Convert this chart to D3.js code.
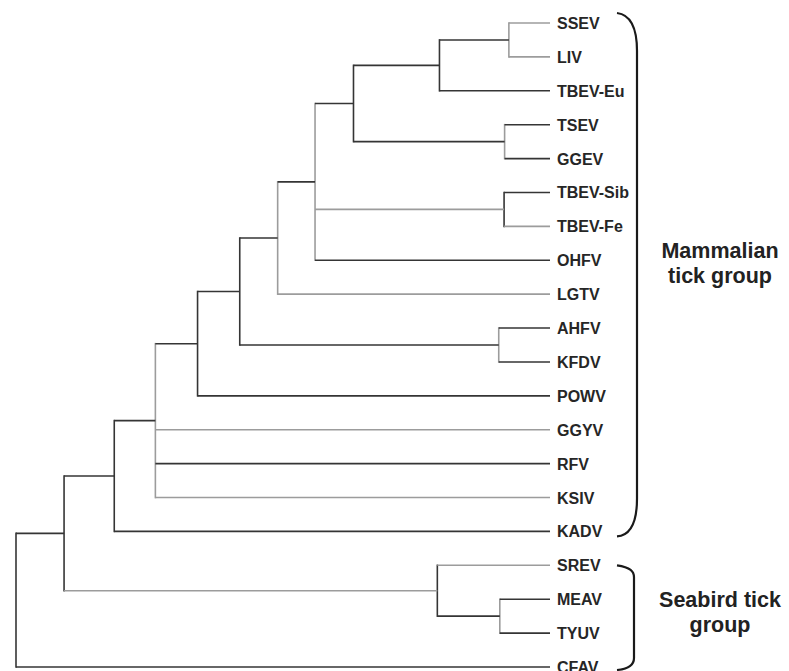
<!DOCTYPE html>
<html>
<head>
<meta charset="utf-8">
<script src="https://cdn.jsdelivr.net/npm/d3@7"></script>
<style>
  body { margin: 0; background: #fff; }
  text { font-family: "Liberation Sans", Arial, sans-serif; }
</style>
</head>
<body>
<svg id="tree"></svg>
<script>
// leaf order, top to bottom
var leaves = ["SSEV", "LIV", "TBEV-Eu", "TSEV", "GGEV", "TBEV-Sib", "TBEV-Fe", "OHFV",
              "LGTV", "AHFV", "KFDV", "POWV", "GGYV", "RFV", "KSIV", "KADV",
              "SREV", "MEAV", "TYUV", "CFAV"];

// [node, parent]
var edges = [
  ["root", ""],
  ["I", "root"], ["CFAV", "root"],
  ["H", "I"], ["Sea", "I"],
  ["G", "H"], ["KADV", "H"],
  ["F", "G"], ["GGYV", "G"], ["RFV", "G"], ["KSIV", "G"],
  ["E", "F"], ["POWV", "F"],
  ["D", "E"], ["AK", "E"],
  ["C", "D"], ["LGTV", "D"],
  ["B", "C"], ["TB", "C"], ["OHFV", "C"],
  ["A", "B"], ["TG", "B"],
  ["SL", "A"], ["TBEV-Eu", "A"],
  ["SSEV", "SL"], ["LIV", "SL"],
  ["TSEV", "TG"], ["GGEV", "TG"],
  ["TBEV-Sib", "TB"], ["TBEV-Fe", "TB"],
  ["AHFV", "AK"], ["KFDV", "AK"],
  ["SREV", "Sea"], ["MT", "Sea"],
  ["MEAV", "MT"], ["TYUV", "MT"]
];

// relative distance of each internal node from the root (leaves sit at 1)
var nodeDepth = {
  root: 0, I: 0.09, H: 0.184, G: 0.261, F: 0.34, E: 0.419, D: 0.49, C: 0.56,
  B: 0.632, A: 0.793, SL: 0.923, TG: 0.915, TB: 0.914, AK: 0.904,
  Sea: 0.789, MT: 0.906
};

// branches printed in the lighter grey
var lightBranches = ["SSEV", "LIV", "TBEV-Fe", "TB", "LGTV", "GGYV", "KSIV", "Sea", "SREV"];
var lightStems = ["SL", "TG", "C", "D", "G", "AK", "MT"];

var groups = [
  { lines: ["Mammalian", "tick group"], first: "SSEV", last: "KADV" },
  { lines: ["Seabird tick", "group"], first: "SREV", last: "CFAV" }
];

var width = 789, height = 671;
var dark = "#353535", light = "#9c9c9c";

var svg = d3.select("#tree")
            .attr("width", width)
            .attr("height", height);

var root = d3.stratify()
             .id(d => d[0])
             .parentId(d => d[1] || null)(edges);

var x = d3.scaleLinear().domain([0, 1]).range([16, 550]);
var y = d3.scalePoint().domain(leaves).range([23, 667]);

root.eachAfter(n => {
  if (n.children) {
    n.px = x(nodeDepth[n.id]);
    n.py = (n.children[0].py + n.children[n.children.length - 1].py) / 2;
  } else {
    n.px = x(1);
    n.py = y(n.id);
  }
});

var g = svg.append("g");

// vertical stems
g.selectAll(".stem")
  .data(root.descendants().filter(n => n.children))
  .enter()
    .append("line")
    .classed("stem", true)
    .attr("x1", d => d.px)
    .attr("x2", d => d.px)
    .attr("y1", d => d.children[0].py)
    .attr("y2", d => d.children[d.children.length - 1].py)
    .attr("stroke", d => lightStems.includes(d.id) ? light : dark)
    .attr("stroke-width", 1.6)
    .attr("stroke-linecap", "square");

// horizontal branches
g.selectAll(".branch")
  .data(root.descendants().filter(n => n.parent))
  .enter()
    .append("line")
    .classed("branch", true)
    .attr("x1", d => d.parent.px)
    .attr("x2", d => d.px)
    .attr("y1", d => d.py)
    .attr("y2", d => d.py)
    .attr("stroke", d => lightBranches.includes(d.id) ? light : dark)
    .attr("stroke-width", 1.6);

// leaf labels
g.selectAll(".leaf")
  .data(root.leaves())
  .enter()
    .append("text")
    .classed("leaf", true)
    .attr("x", d => d.px + 7)
    .attr("y", d => d.py + 6)
    .attr("font-size", "16px")
    .attr("font-weight", "bold")
    .attr("fill", "#262626")
    .text(d => d.id);

// group brackets
var bx = 617;
groups.forEach((grp, i) => {
  var y0 = y(grp.first) - (i === 0 ? 10 : 0);
  var y1 = y(grp.last) + (i === 0 ? 5 : 3);
  var bend = i === 0 ? 38 : 12;
  var reach = i === 0 ? 20 : 17;
  var p = d3.path();
  p.moveTo(bx, y0);
  p.bezierCurveTo(bx + reach * 0.8, y0 + 2, bx + reach, y0 + bend * 0.5, bx + reach, y0 + bend);
  p.lineTo(bx + reach, y1 - bend);
  p.bezierCurveTo(bx + reach, y1 - bend * 0.4, bx + reach * 0.7, y1 - 1, bx, y1);
  svg.append("path")
      .attr("d", p.toString())
      .attr("fill", "none")
      .attr("stroke", "#1a1a1a")
      .attr("stroke-width", 2.2);
});

// group captions
var captionY = [258, 607];
groups.forEach((grp, i) => {
  var t = svg.append("text")
             .attr("x", 720)
             .attr("y", captionY[i])
             .attr("font-size", "21.5px")
             .attr("font-weight", "bold")
             .attr("fill", "#222")
             .style("text-anchor", "middle");
  grp.lines.forEach((line, j) => {
    t.append("tspan")
        .attr("x", 720)
        .attr("dy", j === 0 ? 0 : 25)
        .text(line);
  });
});
</script>
</body>
</html>
